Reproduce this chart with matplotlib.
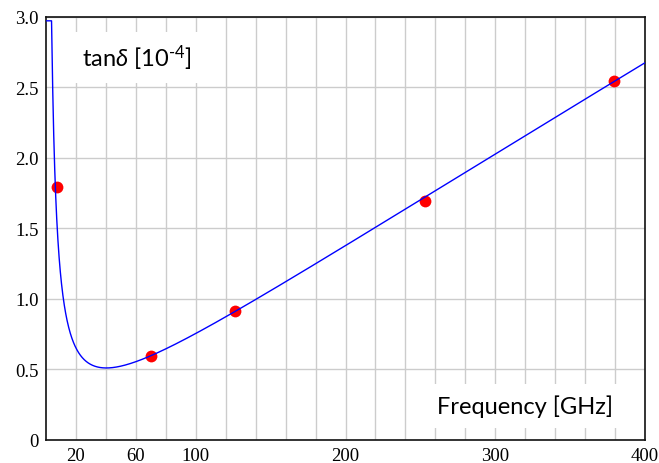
import matplotlib
matplotlib.use("Agg")
import matplotlib.pyplot as plt
import numpy as np

# measured points (frequency in GHz, tan delta in 1e-4)
freq = [7.1, 70, 126, 253, 379]
tan_d = [1.79, 0.596, 0.916, 1.696, 2.546]

# fit curve: tan_d = A/f + D + B*f + C*f^2 (coefficients)
fit_coef = [11.21, -0.0473, 0.006956, -5.63e-7]
y_cap = 2.97

xticks = [20, 60, 100, 200, 300, 400]
xgrid = list(range(20, 400, 20))
yticks = [0, 0.5, 1.0, 1.5, 2.0, 2.5, 3.0]
ytick_labels = ["0", "0.5", "1.0", "1.5", "2.0", "2.5", "3.0"]

plt.rcParams["mathtext.fontset"] = "custom"
plt.rcParams["mathtext.rm"] = "Lato"
plt.rcParams["mathtext.it"] = "Lato:italic"

fig = plt.figure(figsize=(6.59, 4.64), dpi=100)
ax = fig.add_axes([0.0698, 0.0496, 0.909, 0.9125])

f = np.linspace(0.5, 400, 3000)
a, d, b, c = fit_coef
y = a / f + d + b * f + c * f ** 2
ax.plot(f, np.minimum(y, y_cap), color="#0000ff", lw=1.0, zorder=4)
ax.plot(freq, tan_d, "o", color="#ff0000", ms=8.5, mec="none", zorder=3)

ax.set_xlim(0, 400)
ax.set_ylim(0, 3)
ax.set_xticks(xgrid, minor=True)
ax.set_xticks(xticks)
ax.set_xticklabels([str(t) for t in xticks])
ax.set_yticks(yticks)
ax.set_yticklabels(ytick_labels)
ax.tick_params(which="both", length=0, labelsize=13.5, pad=5)
for lab in ax.get_xticklabels() + ax.get_yticklabels():
    lab.set_fontfamily("Liberation Serif")
ax.grid(True, which="both", color="#cccccc", lw=1.0, zorder=0)
ax.set_axisbelow(True)
for s in ax.spines.values():
    s.set_linewidth(1.2)
    s.set_color("#111111")

box = dict(boxstyle="square,pad=0.45", fc="white", ec="none")
ax.text(0.060, 0.903, "tan$\\it{\\delta}$ [10$^{\\rm{\u2010}4}$]", transform=ax.transAxes,
        fontsize=17, family="Lato", va="center", ha="left", bbox=box, zorder=2)
ax.text(0.947, 0.080, "Frequency [GHz]", transform=ax.transAxes,
        fontsize=17, family="Lato", va="center", ha="right", bbox=box, zorder=2)

fig.savefig("out.png")
